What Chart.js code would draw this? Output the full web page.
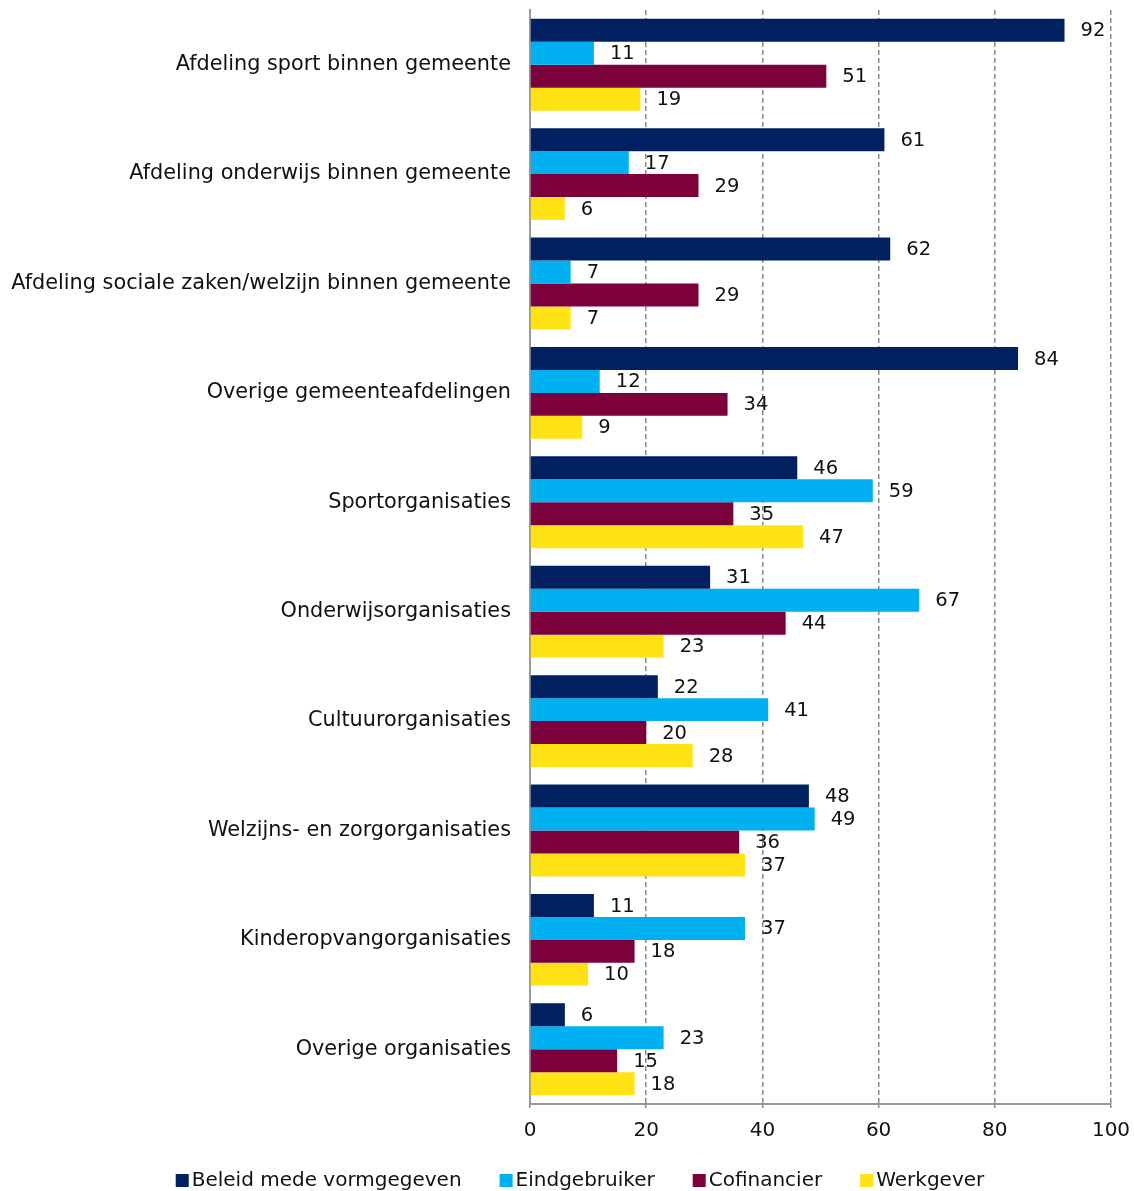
<!DOCTYPE html>
<html>
<head>
<meta charset="utf-8">
<script src="https://cdn.jsdelivr.net/npm/chart.js@4/dist/chart.umd.min.js"></script>
<style>
html,body{margin:0;padding:0;background:#fff;}
#wrap{width:1134px;height:1191px;position:relative;}
</style>
</head>
<body>
<div id="wrap"><canvas id="c" width="1134" height="1191"></canvas></div>
<script>
const categories = [
  "Afdeling sport binnen gemeente",
  "Afdeling onderwijs binnen gemeente",
  "Afdeling sociale zaken/welzijn binnen gemeente",
  "Overige gemeenteafdelingen",
  "Sportorganisaties",
  "Onderwijsorganisaties",
  "Cultuurorganisaties",
  "Welzijns- en zorgorganisaties",
  "Kinderopvangorganisaties",
  "Overige organisaties"
];
const seriesNames = ["Beleid mede vormgegeven", "Eindgebruiker", "Cofinancier", "Werkgever"];
const beleid = [92, 61, 62, 84, 46, 31, 22, 48, 11, 6];
const eindgebruiker = [11, 17, 7, 12, 59, 67, 41, 49, 37, 23];
const cofinancier = [51, 29, 29, 34, 35, 44, 20, 36, 18, 15];
const werkgever = [19, 6, 7, 9, 47, 23, 28, 37, 10, 18];
const xTicks = [0, 20, 40, 60, 80, 100];

const colors = ["#00205F", "#00B0F0", "#7B003C", "#FFE314"];
const FONT = "'DejaVu Sans', sans-serif";

const valueLabels = {
  id: 'valueLabels',
  afterDatasetsDraw(chart) {
    const ctx = chart.ctx;
    ctx.save();
    ctx.font = "19.5px " + FONT;
    ctx.fillStyle = "#111";
    ctx.textAlign = "left";
    ctx.textBaseline = "middle";
    chart.data.datasets.forEach((ds, di) => {
      const meta = chart.getDatasetMeta(di);
      meta.data.forEach((el, i) => {
        ctx.fillText(String(ds.data[i]), el.x + 16, el.y + 1);
      });
    });
    ctx.restore();
  }
};

const customLegend = {
  id: 'customLegend',
  afterDraw(chart) {
    const ctx = chart.ctx;
    ctx.save();
    ctx.font = "20px " + FONT;
    ctx.textBaseline = "middle";
    ctx.textAlign = "left";
    const box = 13, gap = 3, spacing = 38;
    const widths = seriesNames.map(n => box + gap + ctx.measureText(n).width);
    const total = widths.reduce((a, b) => a + b, 0) + spacing * (seriesNames.length - 1);
    let x = 580 - total / 2;
    const y = 1180;
    seriesNames.forEach((n, i) => {
      ctx.fillStyle = colors[i];
      ctx.fillRect(x, y - 6, box, box);
      ctx.fillStyle = "#111";
      ctx.fillText(n, x + box + gap, y + 1);
      x += widths[i] + spacing;
    });
    ctx.restore();
  }
};

const datasets = [beleid, eindgebruiker, cofinancier, werkgever].map((d, i) => ({
  label: seriesNames[i],
  data: d,
  backgroundColor: colors[i],
  borderWidth: 0,
  categoryPercentage: 0.84,
  barPercentage: 1.0
}));

new Chart(document.getElementById('c'), {
  type: 'bar',
  data: { labels: categories, datasets },
  options: {
    indexAxis: 'y',
    responsive: false,
    animation: false,
    devicePixelRatio: 1,
    layout: { padding: { top: 10, right: 23, left: 0, bottom: 47 } },
    plugins: {
      legend: { display: false },
      tooltip: { enabled: false }
    },
    scales: {
      x: {
        min: 0, max: 100,
        afterBuildTicks(scale) { scale.ticks = xTicks.map(v => ({ value: v })); },
        afterFit(scale) { scale.height = 40; scale.paddingLeft = 0; scale.paddingRight = 0; },
        border: { display: true, color: "#999", width: 2, dash: [5, 3] },
        grid: {
          color: "#8a8a8a",
          lineWidth: 1.5,
          tickLength: 4,
          drawTicks: true
        },
        ticks: {
          font: { family: FONT, size: 20 },
          color: "#111",
          padding: 11,
          maxRotation: 0
        }
      },
      y: {
        afterFit(scale) { scale.width = 530; scale.paddingTop = 0; scale.paddingBottom = 0; },
        border: { display: true, color: "#999", width: 2 },
        grid: { display: false, drawTicks: false },
        ticks: {
          font: { family: FONT, size: 20.8 },
          color: "#111",
          padding: 19,
          autoSkip: false
        }
      }
    }
  },
  plugins: [valueLabels, customLegend]
});
</script>
</body>
</html>
